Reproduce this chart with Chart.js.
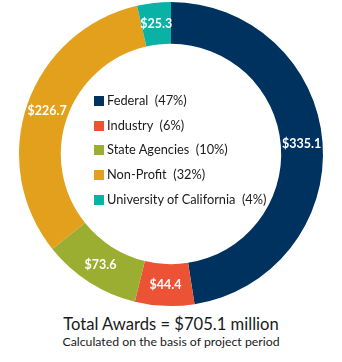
<!DOCTYPE html>
<html>
<head>
<meta charset="utf-8">
<script src="https://cdn.jsdelivr.net/npm/chart.js@4"></script>
<style>
  html, body { margin: 0; padding: 0; background: #fff; }
  #wrap { position: relative; width: 342px; height: 362px; font-family: Lato, "Open Sans", sans-serif; }
  #c { position: absolute; left: 0; top: 0; }
  #legend { position: absolute; left: 94px; top: 90px; }
  .li { position: absolute; left: 0; height: 20px; white-space: nowrap; font-size: 12.8px; color: #1a1a1a; line-height: 20px; }
  .sw { display: inline-block; width: 10px; height: 10px; margin-right: 3px; vertical-align: -1px; }
  #title { position: absolute; left: 0; width: 342px; top: 314px; text-align: center; font-size: 16.6px; color: #1a1a1a; }
  #sub { position: absolute; left: 0; width: 342px; top: 334px; text-align: center; font-size: 12.3px; color: #1a1a1a; }
</style>
</head>
<body>
<div id="wrap">
  <canvas id="c" width="342" height="308"></canvas>
  <div id="legend"></div>
  <div id="title"></div>
  <div id="sub"></div>
</div>
<script>
const categories = ["Federal", "Industry", "State Agencies", "Non-Profit", "University of California"];
const values = [335.1, 44.4, 73.6, 226.7, 25.3];
const percents = ["47%", "6%", "10%", "32%", "4%"];
const colors = ["#00325F", "#EC5335", "#9BAE32", "#E3A01C", "#0AB2A5"];
const titleText = "Total Awards = $705.1 million";
const subtitleText = "Calculated on the basis of project period";

// legend
const leg = document.getElementById('legend');
categories.forEach((c, i) => {
  const d = document.createElement('div');
  d.className = 'li';
  d.style.top = (i * 24.7) + 'px';
  const s = document.createElement('span');
  s.className = 'sw';
  s.style.background = colors[i];
  d.appendChild(s);
  d.appendChild(document.createTextNode(c + '\u00a0 (' + percents[i] + ')'));
  leg.appendChild(d);
});
document.getElementById('title').textContent = titleText;
document.getElementById('sub').textContent = subtitleText;

const labelPlugin = {
  id: 'arcLabels',
  afterDatasetsDraw(chart) {
    const ctx = chart.ctx;
    const meta = chart.getDatasetMeta(0);
    ctx.save();
    ctx.fillStyle = '#ffffff';
    ctx.font = 'bold 12.5px Lato, "Open Sans", sans-serif';
    ctx.textAlign = 'center';
    ctx.textBaseline = 'middle';
    meta.data.forEach((arc, i) => {
      const p = arc.tooltipPosition();
      ctx.fillText('$' + values[i].toFixed(1), p.x, p.y);
    });
    ctx.restore();
  }
};

new Chart(document.getElementById('c'), {
  type: 'doughnut',
  data: {
    labels: categories,
    datasets: [{
      data: values,
      backgroundColor: colors,
      borderWidth: 0
    }]
  },
  options: {
    responsive: false,
    animation: false,
    cutout: '72.5%',
    layout: { padding: { top: 2, bottom: 2 } },
    plugins: {
      legend: { display: false },
      tooltip: { enabled: false }
    }
  },
  plugins: [labelPlugin]
});
</script>
</body>
</html>
